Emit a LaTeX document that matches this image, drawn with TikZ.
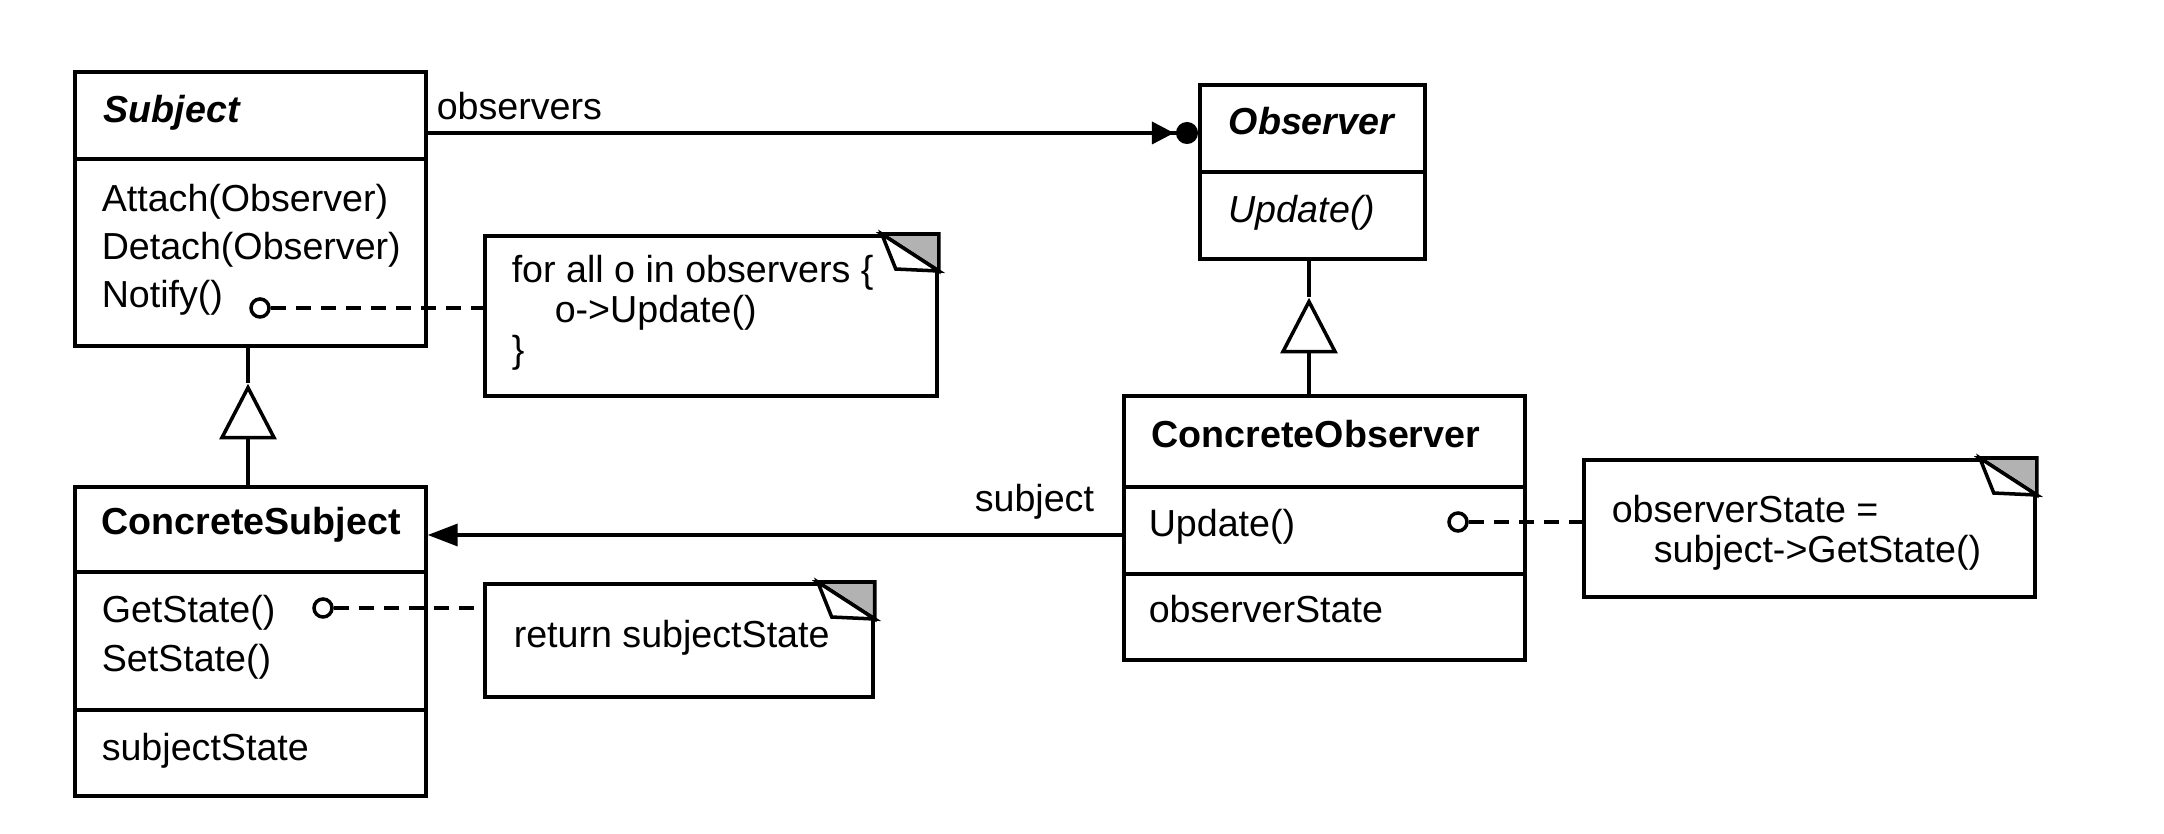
\documentclass[tikz,border=0pt]{standalone}
\usepackage{fontspec}
\setmainfont{Liberation Sans}
\usetikzlibrary{shapes.geometric,arrows.meta}

\begin{document}
\begin{tikzpicture}[x=0.01cm, y=-0.01cm, line width=1pt,
    font=\fontsize{10.7}{13}\selectfont,
    cls/.style={draw, rectangle, anchor=north west, inner sep=0},
    note/.style={draw, rectangle, anchor=north west, inner sep=0},
    txt/.style={anchor=base west, inner sep=0},
    port/.style={circle, draw, fill=white, minimum size=0.18cm, inner sep=0},
    inherit/.style={draw, fill=white, isosceles triangle, shape border rotate=90,
        isosceles triangle stretches, minimum width=0.52cm, minimum height=0.5cm, inner sep=0},
    hook/.style={dash pattern=on 0.15cm off 0.1cm}
]
\useasboundingbox (0,0) rectangle (2164,834);

% Subject class
\node[cls, minimum width=3.51cm, minimum height=0.87cm] (subjhead) at (73,70) {};
\node[cls, minimum width=3.51cm, minimum height=1.87cm] (subjops) at (73,157) {};
\node[txt] (subjname) at (102,123) {\bfseries\itshape Subject};
\node[txt] (attach) at (100,212) {Attach(Observer)};
\node[txt] (detach) at (100,260) {Detach(Observer)};
\node[txt] (notify) at (100,308) {Notify()};

% Observer class
\node[cls, minimum width=2.25cm, minimum height=0.87cm] (obshead) at (1198,83) {};
\node[cls, minimum width=2.25cm, minimum height=0.87cm] (obsops) at (1198,170) {};
\node[txt] (obsname) at (1227,135) {\bfseries\itshape Observer};
\node[txt] (obsupdate) at (1227,223) {\itshape Update()};

% ConcreteSubject class
\node[cls, minimum width=3.51cm, minimum height=0.85cm] (cshead) at (73,485) {};
\node[cls, minimum width=3.51cm, minimum height=1.38cm] (csops) at (73,570) {};
\node[cls, minimum width=3.51cm, minimum height=0.86cm] (csattr) at (73,708) {};
\node[txt] (csname) at (100,535) {\bfseries ConcreteSubject};
\node[txt] (getstate) at (100,623) {GetState()};
\node[txt] (setstate) at (100,672) {SetState()};
\node[txt] (substate) at (100,760) {subjectState};

% ConcreteObserver class
\node[cls, minimum width=4.01cm, minimum height=0.91cm] (cobhead) at (1122,394) {};
\node[cls, minimum width=4.01cm, minimum height=0.87cm] (cobops) at (1122,485) {};
\node[cls, minimum width=4.01cm, minimum height=0.86cm] (cobattr) at (1122,572) {};
\node[txt] (cobname) at (1150,448) {\bfseries ConcreteObserver};
\node[txt] (cobupdate) at (1147,537) {Update()};
\node[txt] (obsstate) at (1147,623) {observerState};

% Notes
\node[note, minimum width=4.52cm, minimum height=1.6cm] (n1) at (483,234) {};
\node[note, minimum width=3.88cm, minimum height=1.13cm] (n2) at (483,582) {};
\node[note, minimum width=4.51cm, minimum height=1.37cm] (n3) at (1582,458) {};
\node[txt] at (510,283) {for all o in observers \{};
\node[txt] at (553,323) {o->Update()};
\node[txt] at (510,363) {\}};
\node[txt] at (512,647) {return subjectState};
\node[txt] at (1610,523) {observerState =};
\node[txt] at (1652,563) {subject->GetState()};

% Folded corners
\foreach \n in {n1,n2,n3}{
  \filldraw[fill=gray!60] ([xshift=-0.57cm]\n.north east) -- (\n.north east)
      -- ([yshift=-0.37cm]\n.north east) -- cycle;
  \draw[fill=white] ([xshift=-0.57cm]\n.north east) -- ([xshift=-0.43cm,yshift=-0.35cm]\n.north east)
      -- ([yshift=-0.37cm]\n.north east) -- cycle;
}

% Note hooks
\node[port] (p1) at (260,308) {};
\node[port] (p2) at (323,608) {};
\node[port] (p3) at (1458,522) {};
\draw[hook] (p1.east) -- (p1 -| n1.west);
\draw[hook] (p2.east) -- (p2 -| n2.west);
\draw[hook] (p3.east) -- (p3 -| n3.west);

% Associations
\coordinate (obsy) at (0,133);
\coordinate (suby) at (0,535);
\draw[-{Triangle[length=0.22cm,width=0.22cm,sep=0.02cm]Circle[length=0.22cm]}]
    (subjhead.east |- obsy) -- (obshead.west |- obsy);
\node[txt] (obslabel) at (435,120) {observers};
\draw[-{Triangle[length=0.3cm,width=0.22cm]}] (cobops.west |- suby) -- (cshead.east |- suby);
\node[txt] (sublabel) at (973,512) {subject};

% Inheritance
\node[inherit, anchor=apex] (tri1) at (248,383) {};
\node[inherit, anchor=apex] (tri2) at (1309,297) {};
\draw (tri1.apex) -- (tri1.apex |- subjops.south);
\draw (tri1.south) -- (tri1.south |- cshead.north);
\draw (tri2.apex) -- (tri2.apex |- obsops.south);
\draw (tri2.south) -- (tri2.south |- cobhead.north);

\end{tikzpicture}
\end{document}
